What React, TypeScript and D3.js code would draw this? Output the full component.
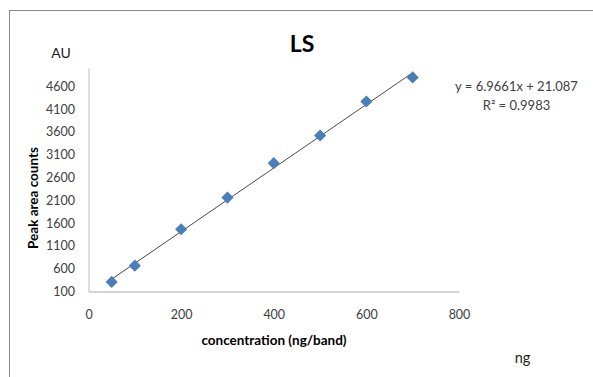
import { useEffect, useRef } from "react";
import * as d3 from "d3";

const WIDTH = 593;
const HEIGHT = 377;
const MARGIN = { top: 68, right: 134, bottom: 85.5, left: 88.5 };
const FONT = "Lato, 'Open Sans', sans-serif";

// calibration data
const concentrations = [50, 100, 200, 300, 400, 500, 600, 700];
const peakAreas = [310, 666, 1465, 2159, 2914, 3520, 4266, 4793];

const xTicks = [0, 200, 400, 600, 800];
const yTicks = [100, 600, 1100, 1600, 2100, 2600, 3100, 3600, 4100, 4600];

// trendline as printed on the chart
const SLOPE = 6.9661;
const INTERCEPT = 21.087;
const equationLabel = "y = 6.9661x + 21.087";
const r2Label = "R² = 0.9983";

export default function App() {
  const xAxisRef = useRef(null);
  const yAxisRef = useRef(null);

  const boundsWidth = WIDTH - MARGIN.left - MARGIN.right;
  const boundsHeight = HEIGHT - MARGIN.top - MARGIN.bottom;

  const xScale = d3.scaleLinear().domain([0, 800]).range([0, boundsWidth]);
  const yScale = d3.scaleLinear().domain([100, 5000]).range([boundsHeight, 0]);

  useEffect(() => {
    const xg = d3.select(xAxisRef.current);
    xg.selectAll("*").remove();
    xg.call(
      d3
        .axisBottom(xScale)
        .tickValues(xTicks)
        .tickFormat(d3.format("d"))
        .tickSize(0)
        .tickPadding(18.5)
    );
    xg.select(".domain").attr("stroke", "#c6c6c6").attr("stroke-width", 1.3);
    xg.selectAll("text")
      .attr("fill", "#404040")
      .style("font-family", FONT)
      .style("font-size", "12.5px");

    const yg = d3.select(yAxisRef.current);
    yg.selectAll("*").remove();
    yg.call(
      d3
        .axisLeft(yScale)
        .tickValues(yTicks)
        .tickFormat(d3.format("d"))
        .tickSize(0)
        .tickPadding(13.5)
    );
    yg.select(".domain").attr("stroke", "#bdbdbd").attr("stroke-width", 1);
    yg.selectAll("text")
      .attr("fill", "#404040")
      .style("font-family", FONT)
      .style("font-size", "12.5px");
  }, [xScale, yScale]);

  const diamond = d3.symbol().type(d3.symbolSquare).size(74)();

  const xMin = d3.min(concentrations) as number;
  const xMax = d3.max(concentrations) as number;

  return (
    <svg
      width={WIDTH}
      height={HEIGHT}
      style={{ position: "absolute", left: 0, top: 0, background: "#fff" }}
    >
      <rect x={0} y={0} width={WIDTH} height={HEIGHT} fill="#fff" />
      {/* chart area frame, runs off the right and bottom edges */}
      <rect
        x={9.5}
        y={10.5}
        width={WIDTH + 20}
        height={HEIGHT + 20}
        fill="none"
        stroke="#8a8a8a"
        strokeWidth={1}
      />

      <text
        x={302}
        y={52}
        textAnchor="middle"
        fontFamily={FONT}
        fontWeight="bold"
        fontSize={23}
        fill="#000"
      >
        LS
      </text>
      <text x={61} y={58} textAnchor="middle" fontFamily={FONT} fontSize={14} fill="#222">
        AU
      </text>

      <g transform={`translate(${MARGIN.left},${MARGIN.top})`}>
        <g ref={yAxisRef} />
        <g ref={xAxisRef} transform={`translate(0,${boundsHeight})`} />

        <line
          x1={xScale(xMin)}
          y1={yScale(SLOPE * xMin + INTERCEPT)}
          x2={xScale(xMax)}
          y2={yScale(SLOPE * xMax + INTERCEPT)}
          stroke="#4a4a4a"
          strokeWidth={1}
        />

        {concentrations.map((c, i) => (
          <path
            key={i}
            d={diamond as string}
            transform={`translate(${xScale(c)},${yScale(peakAreas[i])}) rotate(45)`}
            fill="#4a7ebb"
          />
        ))}
      </g>

      <text
        transform="translate(38,198) rotate(-90)"
        textAnchor="middle"
        fontFamily={FONT}
        fontWeight="bold"
        fontSize={13.5}
        fill="#000"
      >
        Peak area counts
      </text>
      <text
        x={274}
        y={345}
        textAnchor="middle"
        fontFamily={FONT}
        fontWeight="bold"
        fontSize={13.5}
        fill="#000"
      >
        concentration (ng/band)
      </text>
      <text x={522.5} y={362.5} textAnchor="middle" fontFamily={FONT} fontSize={14.5} fill="#222">
        ng
      </text>

      <text x={516.5} y={90.5} textAnchor="middle" fontFamily={FONT} fontSize={13} fill="#404040">
        {equationLabel}
      </text>
      <text x={516.5} y={109.5} textAnchor="middle" fontFamily={FONT} fontSize={13} fill="#404040">
        {r2Label}
      </text>
    </svg>
  );
}
